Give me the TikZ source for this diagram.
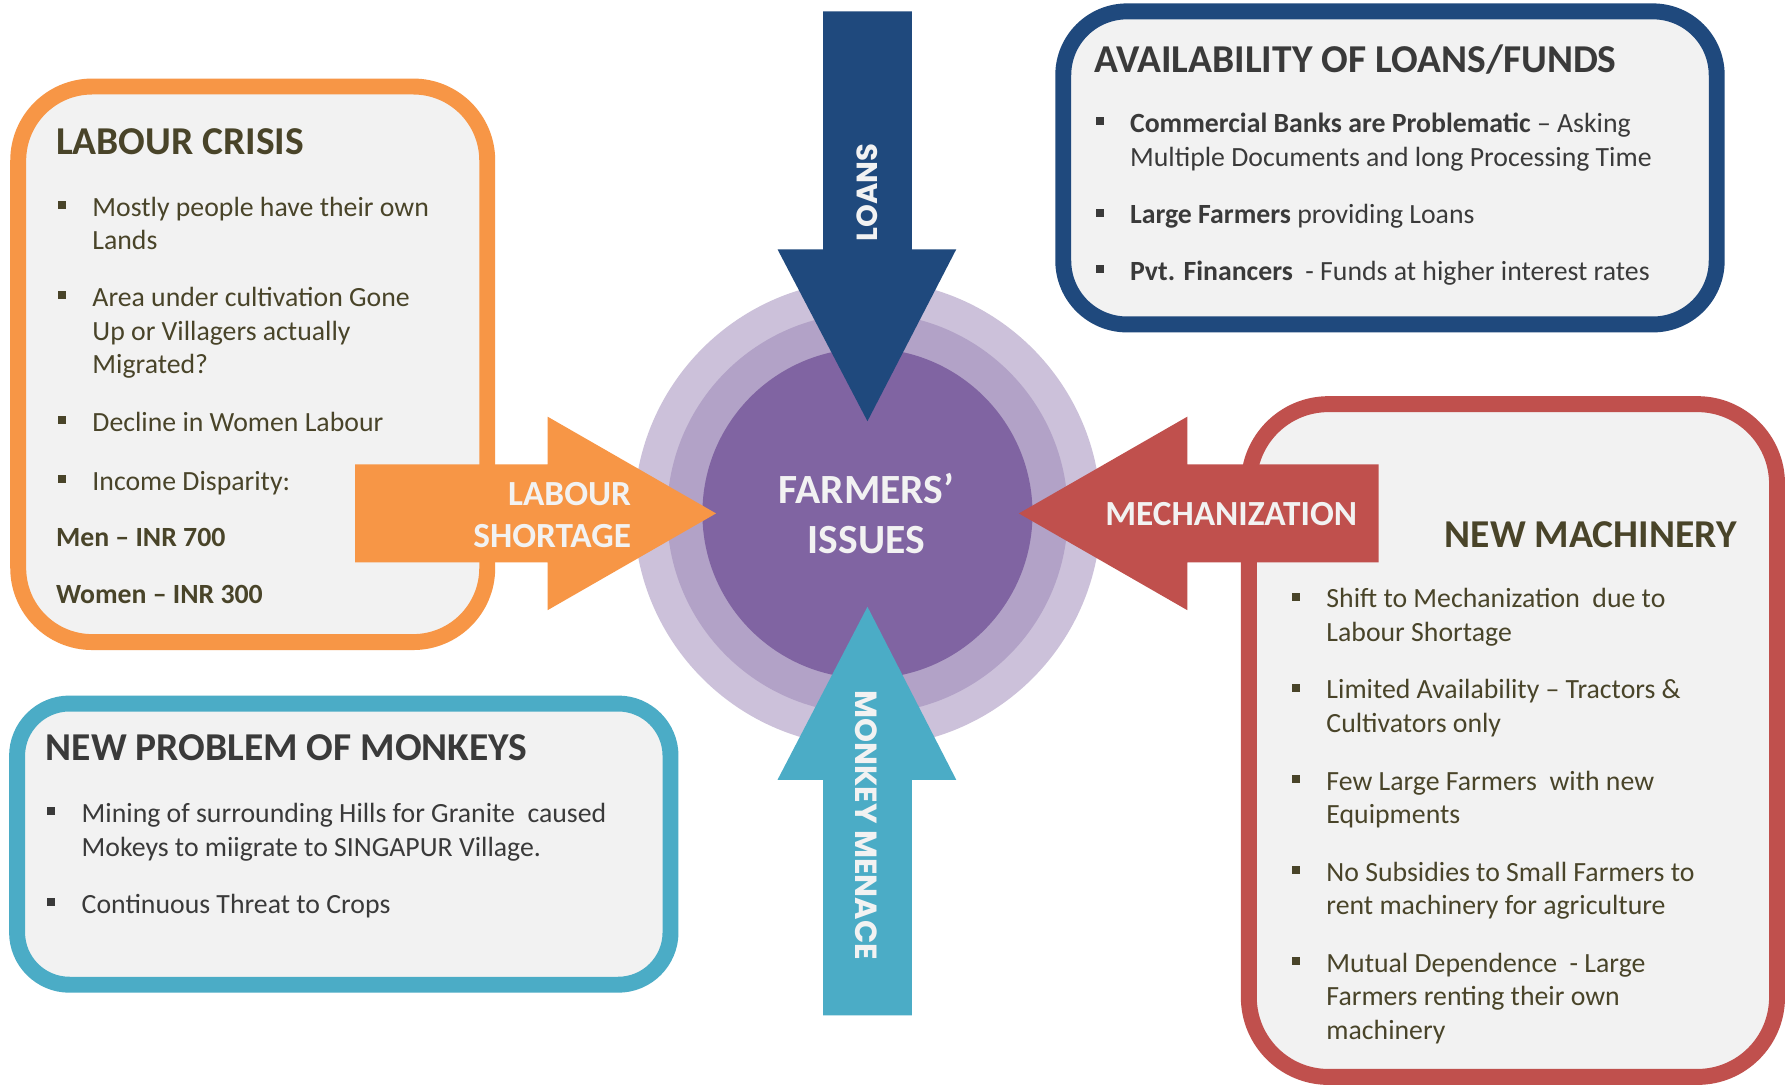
\documentclass[tikz,border=0pt]{standalone}
\usepackage{fontspec}
\setmainfont{Carlito}
\newfontfamily\popfont{Poppins}
\usepackage{graphicx}
\usetikzlibrary{calc}
\definecolor{orgc}{HTML}{F79646}
\definecolor{bluc}{HTML}{1F497D}
\definecolor{tealc}{HTML}{4BACC6}
\definecolor{redc}{HTML}{C0504D}
\definecolor{purc}{HTML}{8064A2}
\definecolor{ringa}{HTML}{B2A2C7}
\definecolor{ringb}{HTML}{CCC1DA}
\definecolor{boxfill}{HTML}{F2F2F2}
\definecolor{olive}{HTML}{494429}
\definecolor{dgray}{HTML}{3A3A3A}
\definecolor{light}{HTML}{F2F2F2}
\newcommand\bitem[5]{%
  \node[txt, text=#4] (#1) at (#2,#3) {#5};
  \fill[#4] ($(#1.base west)+(-30,-13.5)$) rectangle ++(7,7);
}
\begin{document}
\begin{tikzpicture}[x=1pt,y=-1pt,
  boxs/.style={line width=14pt, fill=boxfill},
  txt/.style={font=\fontsize{24.4}{29.5}\selectfont, anchor=base west, inner sep=0pt},
  ttl/.style={font=\fontsize{34.7}{40}\selectfont\bfseries, anchor=base west, inner sep=0pt},
  arrlbl/.style={font=\fontsize{31}{37}\selectfont\bfseries, text=light, inner sep=0pt},
  ctr/.style={font=\fontsize{36.5}{44}\selectfont\bfseries, text=light, inner sep=0pt, anchor=base}
]
\useasboundingbox (0,0) rectangle (1568,953);
\fill[white] (0,0) rectangle (1568,953);

% boxes
\draw[boxs, draw=orgc, rounded corners=65pt] (16,76) rectangle (428,564);
\draw[boxs, draw=bluc, rounded corners=56pt] (934,10) rectangle (1508,285);
\draw[boxs, draw=tealc, rounded corners=46pt] (15,618) rectangle (589,865);
\draw[boxs, draw=redc, rounded corners=70pt] (1097,355) rectangle (1561,946);

% circles
\fill[ringb] (762,451) circle (205pt);
\fill[ringa] (762,451) circle (176pt);
\fill[purc] (762,451) circle (145pt);

% arrows
\fill[orgc] (312,408) -- (481,408) -- (481,366) -- (629,451) -- (481,536) -- (481,494) -- (312,494) -- cycle;
\fill[bluc] (723,10) -- (801,10) -- (801,219) -- (840,219) -- (762,370) -- (683,219) -- (723,219) -- cycle;
\fill[tealc] (723,892) -- (801,892) -- (801,685) -- (840,685) -- (762,533) -- (683,685) -- (723,685) -- cycle;
\fill[redc] (1211,408) -- (1043,408) -- (1043,366) -- (895,451) -- (1043,536) -- (1043,494) -- (1211,494) -- cycle;

% arrow labels
\node[arrlbl, anchor=base east] (ls1) at (554.5,443.7) {LABOUR};
\node[arrlbl, anchor=base east] (ls2) at (554.5,480.6) {SHORTAGE};
\node[arrlbl, anchor=base] (mech) at (1081.5,462) {MECHANIZATION};
\node[ctr] (fi1) at (761,442.2) {FARMERS’};
\node[ctr] (fi2) at (761,486) {ISSUES};
\node[rotate=90, text=light, inner sep=0pt] (loans) at (762,169) {\resizebox{86pt}{!}{\popfont\bfseries LOANS}};
\node[rotate=-90, text=light, inner sep=0pt] (monk) at (761,725) {\resizebox{237pt}{!}{\popfont\bfseries MONKEY MENACE}};

% labour crisis
\node[ttl, text=olive] (lct) at (49,136) {LABOUR CRISIS};
\bitem{lc1}{81}{190.4}{olive}{Mostly people have their own}
\node[txt, text=olive] (lc1b) at (81,219.5) {Lands};
\bitem{lc2}{81}{269.5}{olive}{Area under cultivation Gone}
\node[txt, text=olive] (lc2b) at (81,299) {Up or Villagers actually};
\node[txt, text=olive] (lc2c) at (81,328.5) {Migrated?};
\bitem{lc3}{81}{379}{olive}{Decline in Women Labour}
\bitem{lc4}{81}{430.5}{olive}{Income Disparity:}
\node[txt, text=olive, font=\fontsize{24.4}{29.5}\selectfont\bfseries] (lc5) at (49,480) {Men – INR 700};
\node[txt, text=olive, font=\fontsize{24.4}{29.5}\selectfont\bfseries] (lc6) at (49,530.5) {Women – INR 300};

% loans box
\node[ttl, text=dgray] (blt) at (961,63.6) {AVAILABILITY OF LOANS/FUNDS};
\bitem{bl1}{992.5}{116.5}{dgray}{\textbf{Commercial Banks are Problematic} – Asking}
\node[txt, text=dgray] (bl1b) at (992.5,146) {Multiple Documents and long Processing Time};
\bitem{bl2}{992.5}{196.7}{dgray}{\textbf{Large Farmers} providing Loans}
\bitem{bl3}{992.5}{246.6}{dgray}{\textbf{Pvt. Financers} ~- Funds at higher interest rates}

% machinery box
\node[ttl, text=olive] (nmt) at (1269,480.6) {NEW MACHINERY};
\bitem{nm1}{1165}{534}{olive}{Shift to Mechanization~ due to}
\node[txt, text=olive] (nm1b) at (1165,563.5) {Labour Shortage};
\bitem{nm2}{1165}{614}{olive}{Limited Availability – Tractors \&}
\node[txt, text=olive] (nm2b) at (1165,643.5) {Cultivators only};
\bitem{nm3}{1165}{694}{olive}{Few Large Farmers~ with new}
\node[txt, text=olive] (nm3b) at (1165,723.5) {Equipments};
\bitem{nm4}{1165}{774}{olive}{No Subsidies to Small Farmers to}
\node[txt, text=olive] (nm4b) at (1165,803.5) {rent machinery for agriculture};
\bitem{nm5}{1165}{854}{olive}{Mutual Dependence~ - Large}
\node[txt, text=olive] (nm5b) at (1165,883.5) {Farmers renting their own};
\node[txt, text=olive] (nm5c) at (1165,913) {machinery};

% monkeys box
\node[ttl, text=dgray] (mkt) at (40,668.4) {NEW PROBLEM OF MONKEYS};
\bitem{mk1}{71.6}{722.8}{dgray}{Mining of surrounding Hills for Granite~ caused}
\node[txt, text=dgray] (mk1b) at (71.6,752.2) {Mokeys to miigrate to SINGAPUR Village.};
\bitem{mk2}{71.6}{802.2}{dgray}{Continuous Threat to Crops}
\end{tikzpicture}
\end{document}
